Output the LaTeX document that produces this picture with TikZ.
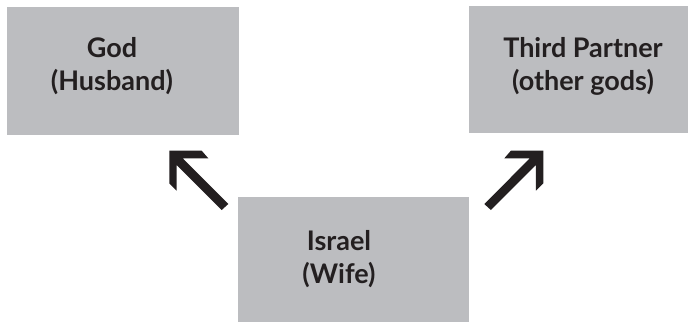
\documentclass[tikz,border=0pt]{standalone}
\usepackage{fontspec}
\setmainfont{Lato}
\definecolor{boxgray}{HTML}{BCBDC0}
\definecolor{ink}{HTML}{231F20}
\tikzset{
  panel/.style={fill=boxgray, draw=none, inner sep=0pt, anchor=north west},
  caption/.style={text=ink, font=\fontsize{27}{33}\selectfont\bfseries, align=center, inner sep=0pt},
  bigarrow/.pic={
    \fill[ink] (0,0) -- (32.4,0) -- (39,7.6) -- (13.4,7.6) -- (59,53.3)
      -- (52.4,59.3) -- (7.4,14.3) -- (7.4,40) -- (0,32.6) -- cycle;
  }
}
\begin{document}
\begin{tikzpicture}[x=1pt,y=-1pt]
  \useasboundingbox (0,0) rectangle (689,322);
  % the three boxes
  \node[panel, minimum width=232pt, minimum height=128pt] (god) at (7,7) {};
  \node[panel, minimum width=219pt, minimum height=127pt] (third) at (469,6) {};
  \node[panel, minimum width=231pt, minimum height=125pt] (israel) at (238,197) {};
  % their labels
  \node[caption] (godtxt) at (112,66) {God\\(Husband)};
  \node[caption] (thirdtxt) at (583,66) {Third Partner\\(other gods)};
  \node[caption] (israeltxt) at (339,259) {Israel\\(Wife)};
  % block arrows from Israel to the two partners
  \pic (toGod) at (169.3,150.7) {bigarrow};
  \pic[xscale=-1] (toThird) at (543.3,150.7) {bigarrow};
\end{tikzpicture}
\end{document}
